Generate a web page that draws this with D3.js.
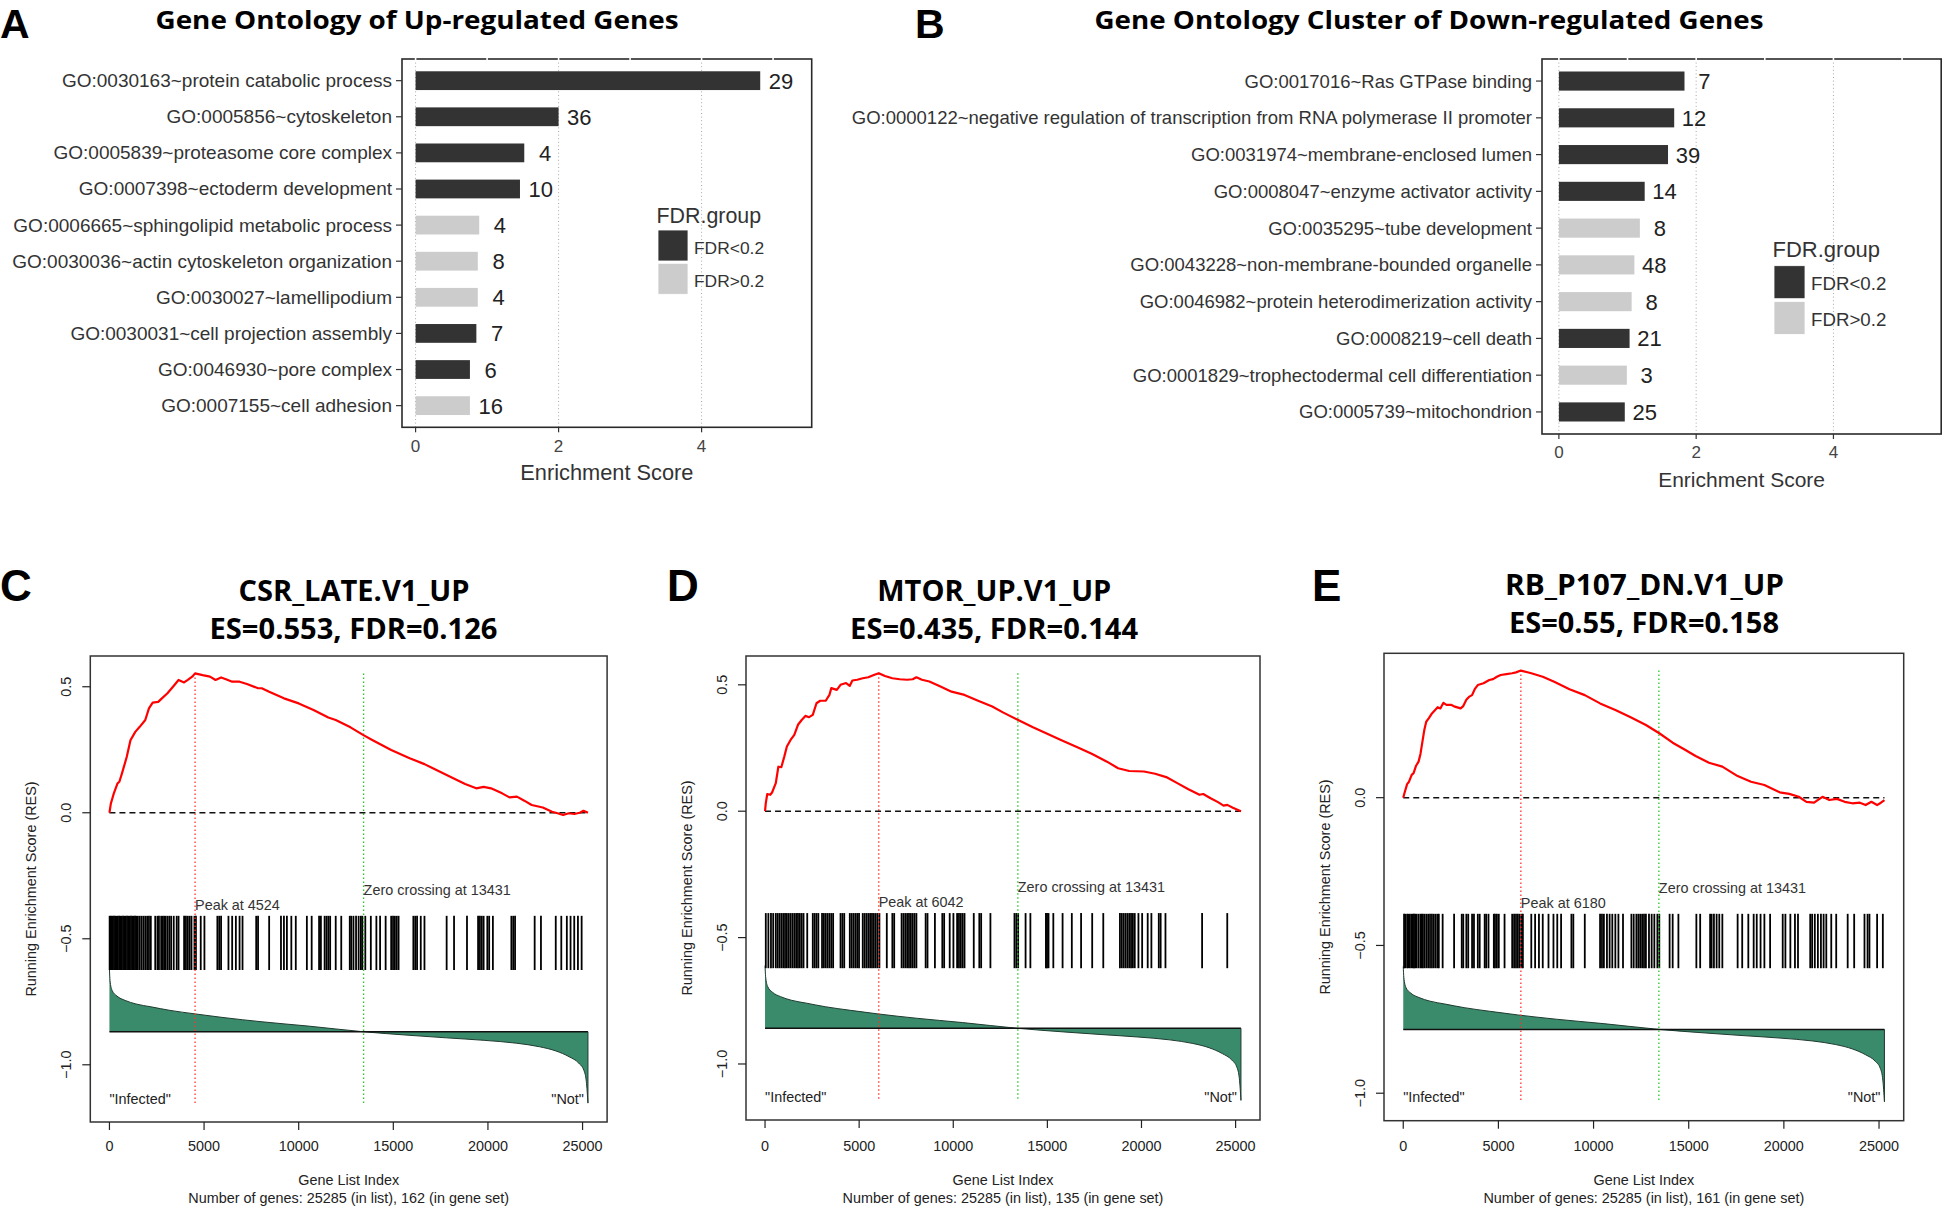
<!DOCTYPE html>
<html><head><meta charset="utf-8">
<script src="https://cdn.jsdelivr.net/npm/d3@7"></script>
<style>
body{margin:0;background:#fff;}
svg{display:block;}
</style></head><body>
<svg id="fig" width="1943" height="1207"></svg>
<script>
// ---------------- DATA ----------------
const fdrGroups = ["FDR<0.2", "FDR>0.2"];

const upTerms = [
  "GO:0030163~protein catabolic process",
  "GO:0005856~cytoskeleton",
  "GO:0005839~proteasome core complex",
  "GO:0007398~ectoderm development",
  "GO:0006665~sphingolipid metabolic process",
  "GO:0030036~actin cytoskeleton organization",
  "GO:0030027~lamellipodium",
  "GO:0030031~cell projection assembly",
  "GO:0046930~pore complex",
  "GO:0007155~cell adhesion"];
const upScores = [4.82, 2.00, 1.52, 1.46, 0.89, 0.87, 0.87, 0.85, 0.76, 0.76];
const upCounts = [29, 36, 4, 10, 4, 8, 4, 7, 6, 16];
const upGroups = ["FDR<0.2","FDR<0.2","FDR<0.2","FDR<0.2","FDR>0.2","FDR>0.2","FDR>0.2","FDR<0.2","FDR<0.2","FDR>0.2"];

const downTerms = [
  "GO:0017016~Ras GTPase binding",
  "GO:0000122~negative regulation of transcription from RNA polymerase II promoter",
  "GO:0031974~membrane-enclosed lumen",
  "GO:0008047~enzyme activator activity",
  "GO:0035295~tube development",
  "GO:0043228~non-membrane-bounded organelle",
  "GO:0046982~protein heterodimerization activity",
  "GO:0008219~cell death",
  "GO:0001829~trophectodermal cell differentiation",
  "GO:0005739~mitochondrion"];
const downScores = [1.83, 1.68, 1.59, 1.25, 1.18, 1.10, 1.06, 1.03, 0.99, 0.96];
const downCounts = [7, 12, 39, 14, 8, 48, 8, 21, 3, 25];
const downGroups = ["FDR<0.2","FDR<0.2","FDR<0.2","FDR<0.2","FDR>0.2","FDR>0.2","FDR>0.2","FDR<0.2","FDR>0.2","FDR<0.2"];

const barTicks = [0, 2, 4];

// GSEA
const nGenes = 25285;
const zeroCrossing = 13431;
const gseaXTicks = [0, 5000, 10000, 15000, 20000, 25000];
const gseaNames = ["CSR_LATE.V1_UP", "MTOR_UP.V1_UP", "RB_P107_DN.V1_UP"];
const gseaES = ["0.553", "0.435", "0.55"];
const gseaFDR = ["0.126", "0.144", "0.158"];
const gseaPeaks = [4524, 6042, 6180];
const geneSetSizes = [162, 135, 161];

const csrIdx = [0,76,232,427,525,662,916,1111,1365,1600,1893,2088,2284,2577,2772,3065,3358,3652,3945,4140,4374,4524,4922,5312,5606,5899,6192,6485,6876,7266,7853,8048,8439,9220,10002,10784,11565,11956,12738,13422,13910,14887,15864,16646,17036,17818,18795,19381,19772,20163,20749,21140,21531,21921,22312,22898,23387,23680,23973,24267,24560,24852,25048,25285];
const csrRES = [0,0.037,0.077,0.117,0.123,0.156,0.222,0.288,0.321,0.341,0.368,0.414,0.437,0.440,0.454,0.474,0.500,0.527,0.517,0.527,0.540,0.553,0.546,0.540,0.527,0.537,0.529,0.520,0.520,0.511,0.494,0.494,0.480,0.454,0.434,0.408,0.378,0.368,0.339,0.308,0.288,0.249,0.216,0.193,0.179,0.150,0.114,0.097,0.103,0.097,0.077,0.061,0.064,0.048,0.031,0.021,0.004,-0.002,-0.009,-0.002,-0.005,0.0,0.008,0.0];
const csrHits = [10,60,110,170,240,300,370,440,510,580,650,720,790,860,930,1000,1070,1140,1210,1280,1350,1410,1502,1600,1698,1796,1893,1991,2088,2186,2420,2538,2616,2733,2811,2889,2968,3065,3163,3261,3397,3554,3652,3945,4042,4140,4238,4335,4492,4570,4824,5019,5703,5801,5899,6289,6485,6680,6876,7032,7755,7853,8439,9064,9220,9377,9611,9846,10432,10686,11077,11174,11370,11468,11565,11663,11956,12249,12699,12777,12894,13031,13167,13285,13363,13519,13812,14105,14301,14594,14887,14985,15082,15180,15278,16059,16157,16255,16450,16646,17818,18209,18893,19479,19577,19675,19772,19967,20065,20261,21238,21336,21433,22469,22801,23583,23876,24169,24365,24560,24755,24951];

const mtorIdx = [0,40,118,276,374,571,708,865,1023,1160,1357,1554,1750,1947,2143,2340,2537,2733,2930,3225,3421,3520,3815,4011,4306,4503,4640,4896,5191,5486,5781,6042,6371,6764,7157,7550,7845,8042,8337,8730,9320,9909,10598,11286,12072,12662,13448,14235,15021,15808,16594,17381,18167,18757,19347,20133,20723,21313,21903,22492,23082,23279,23672,24065,24360,24557,24852,25285];
const mtorRES = [0,0.032,0.068,0.065,0.074,0.111,0.176,0.174,0.216,0.256,0.282,0.302,0.342,0.361,0.377,0.372,0.381,0.427,0.437,0.437,0.460,0.487,0.480,0.500,0.507,0.496,0.517,0.520,0.526,0.530,0.539,0.546,0.535,0.526,0.522,0.520,0.522,0.530,0.520,0.513,0.493,0.473,0.460,0.438,0.414,0.390,0.361,0.332,0.305,0.279,0.253,0.226,0.196,0.170,0.159,0.157,0.148,0.135,0.111,0.087,0.065,0.068,0.051,0.036,0.022,0.025,0.014,0.0];
const mtorHits = [40,177,315,433,571,669,767,865,964,1062,1160,1259,1357,1455,1554,1652,1750,1848,1947,2045,2242,2537,2635,2733,2832,3028,3126,3225,3323,3421,3520,3618,4011,4109,4208,4503,4601,4699,4798,4896,4994,5191,5289,5387,5486,5584,5682,5781,5879,5977,6076,6469,6764,6862,7255,7354,7452,7550,7648,7747,7845,7943,8042,8533,8632,9025,9418,9516,9811,10008,10204,10303,10401,10499,10598,11089,11384,11482,11974,13252,13350,13448,13842,14097,14923,14982,15061,15316,15808,16299,16791,17381,17970,18855,18954,19052,19150,19248,19347,19445,19543,19642,19838,20035,20330,20526,20919,21018,21274,23220,24557];

const rbIdx = [0,62,203,303,444,544,665,805,905,1006,1106,1207,1347,1508,1809,1949,2110,2271,2512,2712,3013,3154,3315,3475,3616,3756,3917,4218,4519,4720,4921,5122,5423,5724,5925,6180,6728,7330,7933,8736,9539,10342,11145,11948,12751,13454,14157,14759,15362,16064,16767,17570,18273,18976,19779,20281,20783,21184,21586,22028,22389,22790,23192,23594,23995,24296,24598,24899,25100,25285];
const rbRES = [0,0.015,0.046,0.054,0.077,0.083,0.107,0.122,0.148,0.189,0.229,0.257,0.269,0.285,0.306,0.302,0.321,0.314,0.314,0.308,0.302,0.310,0.331,0.342,0.347,0.367,0.381,0.387,0.398,0.401,0.409,0.415,0.418,0.421,0.424,0.430,0.421,0.409,0.392,0.367,0.347,0.319,0.297,0.272,0.246,0.218,0.186,0.164,0.141,0.118,0.105,0.073,0.054,0.043,0.018,0.013,0.003,-0.014,-0.017,0.003,-0.008,-0.004,-0.014,-0.019,-0.017,-0.025,-0.014,-0.025,-0.017,-0.008];
const rbHits = [42,102,203,263,343,424,504,564,624,705,805,905,966,1026,1106,1207,1307,1407,1508,1608,1709,1809,1869,2070,2672,3074,3154,3315,3415,3616,3716,3917,4017,4279,4359,4479,4760,4821,4921,5021,5323,5724,5824,5925,6025,6126,6226,6286,6728,6929,7130,7330,7632,7893,8093,8294,8836,8937,9539,10342,10442,10543,10703,10844,10985,11145,11306,11547,11988,12109,12249,12350,12450,12551,12651,12751,12912,13053,13193,13354,13454,13996,14157,14458,15402,15602,16124,16205,16325,16466,16606,16767,17570,17811,18132,18413,18574,18775,18976,19277,19939,20080,20341,20582,20742,21385,21485,21626,21787,21947,22088,22229,22490,22750,23353,23694,24236,24397,24497,24899,25200];

// ranked list metric (shared gene list)
const rankIdx = [0,30,140,400,825,1400,2190,3200,4540,6000,8060,10500,13431,15880,17800,19800,21500,22730,23600,24290,24800,25070,25200,25285];
const rankMetric = [0.87,0.72,0.58,0.50,0.44,0.39,0.35,0.30,0.25,0.20,0.14,0.08,0.0,-0.05,-0.085,-0.12,-0.16,-0.21,-0.27,-0.35,-0.44,-0.54,-0.70,-1.0];

// ---------------- RENDER ----------------
const svg = d3.select("#fig");
const SANS = "'Liberation Sans', Arial, sans-serif";
const BOLD = "'Open Sans', 'Liberation Sans', sans-serif";
const color = d3.scaleOrdinal().domain(fdrGroups).range(["#333333", "#cccccc"]);

function txt(g, s, x, y, size, opts = {}) {
  const t = g.append("text").attr("x", x).attr("y", y).text(s)
    .attr("font-family", opts.family || SANS).attr("font-size", size)
    .attr("fill", opts.fill || "#222")
    .attr("text-anchor", opts.anchor || "start");
  if (opts.weight) t.attr("font-weight", opts.weight);
  if (opts.len) t.attr("textLength", opts.len).attr("lengthAdjust", "spacingAndGlyphs");
  if (opts.transform) t.attr("transform", opts.transform);
  return t;
}

// panel letters
const panelLetters = ["A", "B", "C", "D", "E"];
const letterXY = [[0, 38], [915, 38], [0, 601], [667, 601], [1312, 601]];
panelLetters.forEach((L, i) => txt(svg, L, letterXY[i][0], letterXY[i][1], i < 2 ? 41 : 44, {weight: "bold", fill: "#000"}));

function barPanel(cfg) {
  const g = svg.append("g");
  const b = cfg.box;
  const x = d3.scaleLinear().domain(cfg.xDomain).range([b.x0, b.x1]);
  const y = d3.scalePoint().domain(cfg.terms).range([b.y0, b.y1]).padding(0.6);
  const bh = y.step() * 0.52;

  // title
  txt(g, cfg.title, cfg.titleX, 29, 25, {family: BOLD, weight: "bold", anchor: "middle", fill: "#000", len: cfg.titleLen});

  // dotted grid
  g.selectAll("line.grid").data(barTicks).join("line")
    .attr("x1", d => x(d)).attr("x2", d => x(d)).attr("y1", b.y0).attr("y2", b.y1)
    .attr("stroke", "#a8a8a8").attr("stroke-width", 1).attr("stroke-dasharray", "1,2.6");

  // bars
  g.selectAll("rect.bar").data(cfg.terms).join("rect")
    .attr("x", x(0)).attr("y", d => y(d) - bh / 2)
    .attr("width", (d, i) => x(cfg.scores[i]) - x(0)).attr("height", bh)
    .attr("fill", (d, i) => color(cfg.groups[i]));

  // count labels
  g.selectAll("text.cnt").data(cfg.terms).join("text")
    .attr("x", (d, i) => x(cfg.scores[i] + 0.29)).attr("y", d => y(d) + 8)
    .attr("text-anchor", "middle").attr("font-family", SANS).attr("font-size", 22).attr("fill", "#222")
    .text((d, i) => cfg.counts[i]);

  // box
  g.append("rect").attr("x", b.x0).attr("y", b.y0).attr("width", b.x1 - b.x0).attr("height", b.y1 - b.y0)
    .attr("fill", "none").attr("stroke", "#2a2a2a").attr("stroke-width", 1.6);
  // white grid marks crossing the top border
  g.selectAll("line.wm").data(d3.range(0, 6)).join("line")
    .attr("x1", d => x(d)).attr("x2", d => x(d)).attr("y1", b.y0 - 1.5).attr("y2", b.y0 + 1.5)
    .attr("stroke", "#fff").attr("stroke-width", 1.6);

  // y axis ticks + labels
  g.selectAll("line.yt").data(cfg.terms).join("line")
    .attr("x1", b.x0 - 6).attr("x2", b.x0).attr("y1", d => y(d)).attr("y2", d => y(d))
    .attr("stroke", "#333").attr("stroke-width", 1.2);
  g.selectAll("text.yl").data(cfg.terms).join("text")
    .attr("x", b.x0 - 10).attr("y", d => y(d) + 6.5)
    .attr("text-anchor", "end").attr("font-family", SANS).attr("font-size", cfg.labelSize).attr("fill", "#333")
    .text(d => d);

  // x axis ticks + labels
  g.selectAll("line.xt").data(barTicks).join("line")
    .attr("x1", d => x(d)).attr("x2", d => x(d)).attr("y1", b.y1).attr("y2", b.y1 + 5)
    .attr("stroke", "#333").attr("stroke-width", 1.2);
  g.selectAll("text.xl").data(barTicks).join("text")
    .attr("x", d => x(d)).attr("y", cfg.tickY)
    .attr("text-anchor", "middle").attr("font-family", SANS).attr("font-size", 17).attr("fill", "#444")
    .text(d => d);
  txt(g, "Enrichment Score", (b.x0 + b.x1) / 2, cfg.axisTitleY, cfg.axisTitleSize, {anchor: "middle", fill: "#333"});

  // legend
  const L = cfg.legend;
  txt(g, "FDR.group", L.x - 1.5, L.titleY, L.titleSize, {fill: "#333"});
  fdrGroups.forEach((grp, i) => {
    g.append("rect").attr("x", L.x).attr("y", L.y + i * L.step).attr("width", L.w).attr("height", L.h)
      .attr("fill", color(grp)).attr("stroke", "#fff").attr("stroke-width", 0.8);
    txt(g, grp, L.x + L.w + 6, L.y + i * L.step + L.h / 2 + 8, L.labelSize, {fill: "#333"});
  });
}

barPanel({
  title: "Gene Ontology of Up-regulated Genes", titleX: 417, titleLen: 523,
  terms: upTerms, scores: upScores, counts: upCounts, groups: upGroups,
  box: {x0: 402, x1: 811.7, y0: 59, y1: 427.3}, xDomain: [-0.19, 5.54],
  labelSize: 19, tickY: 452, axisTitleY: 480, axisTitleSize: 21.8,
  legend: {x: 658, y: 230, w: 30, h: 31, step: 33.3, titleY: 222.5, titleSize: 21.4, labelSize: 17.4}
});
barPanel({
  title: "Gene Ontology Cluster of Down-regulated Genes", titleX: 1429, titleLen: 669,
  terms: downTerms, scores: downScores, counts: downCounts, groups: downGroups,
  box: {x0: 1542, x1: 1941.2, y0: 59, y1: 434}, xDomain: [-0.246, 5.57],
  labelSize: 18.5, tickY: 458, axisTitleY: 487, axisTitleSize: 21,
  legend: {x: 1774, y: 265.7, w: 31, h: 33, step: 35.7, titleY: 257, titleSize: 22, labelSize: 18.7}
});

// ---------------- GSEA panels ----------------
function gseaPanel(cfg) {
  const g = svg.append("g");
  const b = cfg.box;
  const x = d3.scaleLinear().domain([-0.04 * nGenes, 1.04 * nGenes]).range([b.x0, b.x1]);
  const y = d3.scaleLinear().domain(cfg.yDomain).range([b.y1, b.y0]);
  const rankY = d3.scaleLinear().domain([0, 1]).range([y(cfg.rankBase), y(cfg.rankBase + cfg.rankScale)]);

  // titles
  txt(g, cfg.name, cfg.t1[0], cfg.t1[1], 29, {family: BOLD, weight: "bold", anchor: "middle", fill: "#000", len: cfg.t1[2]});
  txt(g, `ES=${cfg.es}, FDR=${cfg.fdr}`, cfg.t2[0], cfg.t2[1], 29, {family: BOLD, weight: "bold", anchor: "middle", fill: "#000", len: cfg.t2[2]});

  // ranked list area
  const rk = rankIdx.map((d, i) => [d, rankMetric[i]]);
  g.append("path").datum(rk)
    .attr("d", d3.area().x(d => x(d[0])).y0(rankY(0)).y1(d => rankY(d[1])).curve(d3.curveMonotoneX))
    .attr("fill", "#3a8a6c");
  g.append("path").datum(rk)
    .attr("d", d3.line().x(d => x(d[0])).y(d => rankY(d[1])).curve(d3.curveMonotoneX))
    .attr("fill", "none").attr("stroke", "#1f3b30").attr("stroke-width", 1);
  g.append("line").attr("x1", x(0)).attr("x2", x(nGenes)).attr("y1", rankY(0)).attr("y2", rankY(0))
    .attr("stroke", "#111").attr("stroke-width", 1.5);
  g.append("line").attr("x1", x(nGenes)).attr("x2", x(nGenes)).attr("y1", rankY(0)).attr("y2", rankY(d3.min(rankMetric)))
    .attr("stroke", "#1f3b30").attr("stroke-width", 1);

  // hits
  g.selectAll("line.hit").data(cfg.hits).join("line")
    .attr("x1", d => x(d)).attr("x2", d => x(d))
    .attr("y1", y(cfg.hitBand[0])).attr("y2", y(cfg.hitBand[1]))
    .attr("stroke", "#000").attr("stroke-width", 1.8);

  const yMax = d3.max(cfg.res);
  const yMin = cfg.rankBase + cfg.rankScale * d3.min(rankMetric);
  // peak & zero crossing lines
  g.append("line").attr("x1", x(cfg.peak)).attr("x2", x(cfg.peak)).attr("y1", y(yMax)).attr("y2", y(yMin))
    .attr("stroke", "#ff3030").attr("stroke-width", 1.3).attr("stroke-dasharray", "1.5,2.5");
  g.append("line").attr("x1", x(zeroCrossing)).attr("x2", x(zeroCrossing)).attr("y1", y(yMax)).attr("y2", y(yMin))
    .attr("stroke", "#22cc22").attr("stroke-width", 1.3).attr("stroke-dasharray", "1.5,2.5");

  // zero line
  g.append("line").attr("x1", x(0)).attr("x2", x(nGenes)).attr("y1", y(0)).attr("y2", y(0))
    .attr("stroke", "#111").attr("stroke-width", 1.5).attr("stroke-dasharray", "6,4");

  // running ES
  g.append("path").datum(cfg.idx.map((d, i) => [d, cfg.res[i]]))
    .attr("d", d3.line().x(d => x(d[0])).y(d => y(d[1])))
    .attr("fill", "none").attr("stroke", "#ff0000").attr("stroke-width", 2.2).attr("stroke-linejoin", "round");

  // annotations
  const hitTop = y(cfg.hitBand[0]);
  txt(g, `Peak at ${cfg.peak}`, x(cfg.peak), hitTop - 6, 14.4, {fill: "#333"});
  txt(g, `Zero crossing at ${zeroCrossing}`, x(zeroCrossing), hitTop - 21, 14.4, {fill: "#333"});
  txt(g, '"Infected"', x(0), b.y1 - 18.5, 14.4, {fill: "#222"});
  txt(g, '"Not"', x(nGenes) - 4, b.y1 - 18.5, 14.4, {fill: "#222", anchor: "end"});

  // box
  g.append("rect").attr("x", b.x0).attr("y", b.y0).attr("width", b.x1 - b.x0).attr("height", b.y1 - b.y0)
    .attr("fill", "none").attr("stroke", "#333").attr("stroke-width", 1.5);

  // x axis
  g.selectAll("line.xt").data(gseaXTicks).join("line")
    .attr("x1", d => x(d)).attr("x2", d => x(d)).attr("y1", b.y1).attr("y2", b.y1 + 8)
    .attr("stroke", "#222").attr("stroke-width", 1.2);
  g.selectAll("text.xl").data(gseaXTicks).join("text")
    .attr("x", d => x(d)).attr("y", 1151).attr("text-anchor", "middle")
    .attr("font-family", SANS).attr("font-size", 14.4).attr("fill", "#222").text(d => d);
  const cx = (b.x0 + b.x1) / 2;
  txt(g, "Gene List Index", cx, 1185, 14.4, {anchor: "middle"});
  txt(g, `Number of genes: ${nGenes} (in list), ${cfg.size} (in gene set)`, cx, 1202.5, 14.4, {anchor: "middle"});

  // y axis
  const yt = [-1.0, -0.5, 0.0, 0.5].filter(v => v >= cfg.yDomain[0] && v <= cfg.yDomain[1]);
  g.selectAll("line.yt").data(yt).join("line")
    .attr("x1", b.x0 - 8).attr("x2", b.x0).attr("y1", d => y(d)).attr("y2", d => y(d))
    .attr("stroke", "#222").attr("stroke-width", 1.2);
  g.selectAll("text.yl").data(yt).join("text")
    .attr("transform", d => `translate(${b.x0 - 19.5},${y(d)}) rotate(-90)`)
    .attr("text-anchor", "middle").attr("font-family", SANS).attr("font-size", 14.4).attr("fill", "#222")
    .text(d => d3.format(".1f")(d).replace("-", "\u2212"));
  txt(g, "Running Enrichment Score (RES)", 0, 0, 14.4,
      {anchor: "middle", transform: `translate(${b.x0 - 54},${(b.y0 + b.y1) / 2 + 0}) rotate(-90)`});
}

const gseaLayout = [
  {box: {x0: 90.3, x1: 607.1, y0: 656, y1: 1122}, yDomain: [-1.227, 0.622], hitBand: [-0.409, -0.624],
   rankBase: -0.869, rankScale: 0.283, t1: [354, 601.3, 231], t2: [353.5, 639.2, 288]},
  {box: {x0: 746, x1: 1260, y0: 656, y1: 1120}, yDomain: [-1.2216, 0.614], hitBand: [-0.403, -0.621],
   rankBase: -0.859, rankScale: 0.285, t1: [994.3, 601.3, 234], t2: [994.1, 639.2, 288]},
  {box: {x0: 1384, x1: 1903.7, y0: 653.3, y1: 1120.7}, yDomain: [-1.093, 0.4885], hitBand: [-0.393, -0.577],
   rankBase: -0.784, rankScale: 0.245, t1: [1644.5, 595, 279], t2: [1644, 632.8, 270]}
];
const gseaIdx = [csrIdx, mtorIdx, rbIdx];
const gseaRES = [csrRES, mtorRES, rbRES];
const gseaHits = [csrHits, mtorHits, rbHits];

gseaLayout.forEach((L, i) => gseaPanel(Object.assign({}, L, {
  name: gseaNames[i], es: gseaES[i], fdr: gseaFDR[i], peak: gseaPeaks[i], size: geneSetSizes[i],
  idx: gseaIdx[i], res: gseaRES[i], hits: gseaHits[i]
})));
</script></body></html>
